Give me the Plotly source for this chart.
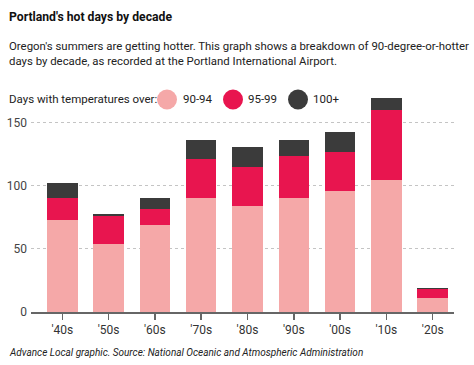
import plotly.graph_objects as go

decades = ["'40s", "'50s", "'60s", "'70s", "'80s", "'90s", "'00s", "'10s", "'20s"]
days_90_94 = [73, 54, 69, 90, 84, 90, 96, 105, 11]
days_95_99 = [17, 22, 13, 31, 31, 34, 31, 55, 7]
days_100_plus = [12, 2, 8, 15, 16, 12, 16, 10, 1]
series_names = ["90-94", "95-99", "100+"]
series_colors = ["#F5A8A8", "#E8154F", "#3B3B3B"]
y_ticks = [0, 50, 100, 150]

W, H = 474, 365
L, R = 31, 454
T, B = 94.5, 311.7
FONT = "Roboto"

def px(x):
    return (x - L) / (R - L)

def py(y):
    return (B - y) / (B - T)

fig = go.Figure()
for name, vals, col in zip(series_names, [days_90_94, days_95_99, days_100_plus], series_colors):
    fig.add_trace(go.Bar(x=decades, y=vals, name=name, marker=dict(color=col, line=dict(width=0)),
                         showlegend=False, hoverinfo="skip"))

annotations = [
    dict(text="<b>Portland's hot days by decade</b>", x=px(7), y=py(16), xanchor="left", yanchor="middle",
         font=dict(family=FONT, size=12.2, color="#111", weight=900)),
    dict(text="Oregon's summers are getting hotter. This graph shows a breakdown of 90-degree-or-hotter<br>days by decade, as recorded at the Portland International Airport.",
         x=px(7), y=py(52.5), xanchor="left", yanchor="middle", align="left",
         font=dict(family=FONT, size=11.4, color="#222")),
    dict(text="Days with temperatures over:", x=px(7), y=py(99), xanchor="left", yanchor="middle",
         font=dict(family=FONT, size=11.5, color="#222")),
    dict(text="<i>Advance Local graphic. Source: National Oceanic and Atmospheric Administration</i>",
         x=px(7), y=py(352), xanchor="left", yanchor="middle",
         font=dict(family=FONT, size=10, color="#222")),
]
shapes = []
leg_circle_x = [167, 233, 298]
leg_text_x = [181, 246, 311]
for name, col, cx, tx in zip(series_names, series_colors, leg_circle_x, leg_text_x):
    shapes.append(dict(type="circle", xref="paper", yref="paper", xsizemode="pixel", ysizemode="pixel",
                       xanchor=px(cx), yanchor=py(99), x0=-10, x1=10, y0=-10, y1=10,
                       fillcolor=col, line=dict(width=0)))
    annotations.append(dict(text=name, x=px(tx), y=py(99), xanchor="left", yanchor="middle",
                            font=dict(family=FONT, size=11.5, color="#222")))
for a in annotations:
    a.update(xref="paper", yref="paper", showarrow=False)

fig.update_layout(
    width=W, height=H,
    margin=dict(l=L, r=W - R, t=T, b=H - B, autoexpand=False),
    paper_bgcolor="white", plot_bgcolor="white",
    barmode="stack", bargap=0.34,
    showlegend=False,
    annotations=annotations, shapes=shapes,
    font=dict(family=FONT, color="#333"),
    xaxis=dict(range=[-0.676, 8.46], showline=True, linecolor="#666", linewidth=1.5,
               ticks="outside", ticklen=6, tickcolor="#666", tickwidth=1.5,
               tickfont=dict(family=FONT, size=12, color="#333"), showgrid=False, fixedrange=True),
    yaxis=dict(range=[0, 172], tickvals=y_ticks, showgrid=True, gridcolor="#C4C4C4", griddash="dot",
               gridwidth=1, zeroline=False, ticks="", ticklabelstandoff=3, fixedrange=True,
               tickfont=dict(family=FONT, size=12, color="#444")),
)
fig.write_html("out.html", config={"displayModeBar": False, "staticPlot": True},
               post_script="document.body.style.margin='0';document.body.style.padding='0';")
